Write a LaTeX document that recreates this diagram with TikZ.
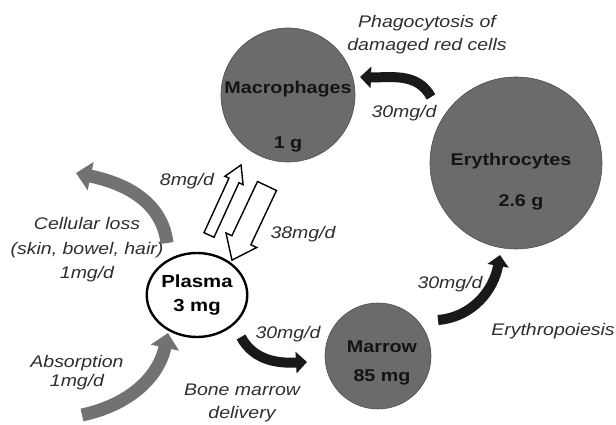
\documentclass[tikz,border=0pt]{standalone}
\usepackage{fontspec}
\newfontfamily\diafont[FakeStretch=1.16]{Liberation Sans}
\usetikzlibrary{arrows.meta,calc,shapes.geometric}
\definecolor{poolgray}{HTML}{6B6B6B}
\definecolor{lossgray}{HTML}{727272}
\definecolor{inkgray}{HTML}{2E2E2E}

\begin{document}
\begin{tikzpicture}[x=1pt, y=1pt,
  pool/.style={circle, draw=black!70, line width=0.6pt, fill=poolgray, minimum size=#1, inner sep=0pt},
  val/.style={font=\diafont\fontsize{17}{19}\selectfont\bfseries, text=black!92, inner sep=0pt},
  lbl/.style={font=\diafont\fontsize{16.8}{#1}\selectfont\itshape, text=inkgray, align=center, inner sep=0pt},
  lbl/.default=23,
  flow/.style={line width=10pt, draw=black!90, -{Triangle[length=11pt, width=21pt]}},
  loss/.style={line width=13pt, draw=lossgray, -{Triangle[length=15pt, width=28pt]}},
  hollow/.style={draw=black, line width=1.4pt, fill=white, line join=miter},
  ]
\useasboundingbox (0,0) rectangle (616,425);
% iron pools
\node[pool=134pt] (macro)  at (288,330) {};
\node[pool=172pt] (ery)    at (516,262) {};
\node[pool=106pt] (marrow) at (378,69) {};
\node[ellipse, draw=black, line width=2.4pt, fill=white, minimum width=88pt, minimum height=84pt, inner sep=0pt,
      font=\diafont\fontsize{17.5}{24}\selectfont\bfseries, align=center] (plasma) at (197,130) {Plasma\\3 mg};
\node[val] (macroname) at (288,336) {Macrophages};
\node[val] (macroval)  at (288,281) {1 g};
\node[val] (eryname)   at (511,264) {Erythrocytes};
\node[val] (eryval)    at (521,223) {2.6 g};
\node[val] (marname)   at (382,78) {Marrow};
\node[val] (marval)    at (382,48) {85 mg};
% flow labels
\node[lbl] (phag)  at (427,390) {Phagocytosis of\\damaged red cells};
\node[lbl] (qphag) at (404,312) {30mg/d};
\node[lbl] (qery)  at (450,141) {30mg/d};
\node[lbl] (epo)   at (553,94) {Erythropoiesis};
\node[lbl] (qbm)   at (288,91) {30mg/d};
\node[lbl] (bmd)   at (242,22) {Bone marrow\\delivery};
\node[lbl=24.5] (cell) at (87,175) {Cellular loss\\(skin, bowel, hair)\\1mg/d};
\node[lbl=19] (abs) at (77,52) {Absorption\\1mg/d};
\node[lbl] (qin)  at (187,244) {8mg/d};
\node[lbl] (qout) at (303,191) {38mg/d};
% free ends of the curved flows
\coordinate (lossfrom) at (167,182);
\coordinate (lossto)   at (76,252);
\coordinate (absfrom)  at (82,10);
\coordinate (absto)    at (168,92);
\coordinate (bmfrom)   at (241,88);
\coordinate (bmto)     at (307,63);
\coordinate (epofrom)  at (438,105);
\coordinate (epoto)    at (500,170);
\coordinate (phfrom)   at (431,328);
\coordinate (phto)     at (360,348);
\coordinate (upfrom)   at (209,190);
\coordinate (downfrom) at (267,239);
% curved flows
\draw[loss] (lossfrom) to[out=97, in=-12] (lossto);
\draw[loss] (absfrom) to[out=12, in=-102] (absto);
\draw[flow] (bmfrom) to[out=-62, in=183] (bmto);
\draw[flow] (epofrom) to[out=5, in=-100] (epoto);
\draw[flow] (phfrom) to[out=118, in=-2] (phto);
% plasma <-> macrophages
\begin{scope}[shift={(upfrom)}, rotate=65.4]
  \draw[hollow] (0,-5.5) -- (60,-5.5) -- (60,-10) -- (77,0) -- (60,10) -- (60,5.5) -- (0,5.5) -- cycle;
\end{scope}
\begin{scope}[shift={(downfrom)}, rotate=244.7]
  \draw[hollow] (0,-10.5) -- (60,-10.5) -- (60,-17) -- (82,0) -- (60,17) -- (60,10.5) -- (0,10.5) -- cycle;
\end{scope}
\end{tikzpicture}
\end{document}
